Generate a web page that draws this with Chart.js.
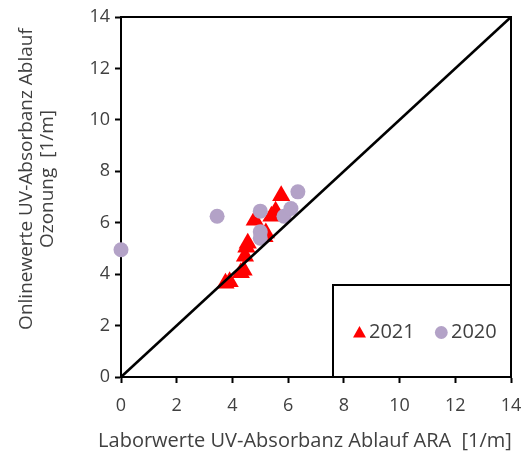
<!DOCTYPE html>
<html>
<head>
<meta charset="utf-8">
<script src="https://cdn.jsdelivr.net/npm/chart.js@4/dist/chart.umd.min.js"></script>
<style>
  html, body { margin: 0; padding: 0; background: #ffffff; }
  #wrap { width: 527px; height: 457px; }
</style>
</head>
<body>
<div id="wrap"><canvas id="c" width="527" height="457"></canvas></div>
<script>
// Lab values (x) against online values (y), UV absorbance [1/m]
const labels = ['2021', '2020'];

const lab2021 = [3.75, 3.9, 4.3, 4.4, 4.45, 4.5, 4.55, 4.8, 5.15, 5.2, 5.4, 5.55, 5.75];
const online2021 = [3.65, 3.7, 4.05, 4.15, 4.7, 5.05, 5.2, 6.1, 5.45, 5.6, 6.25, 6.45, 7.05];

const lab2020 = [0, 3.45, 5.0, 5.0, 5.0, 5.85, 6.1, 6.35];
const online2020 = [4.95, 6.25, 6.45, 5.65, 5.4, 6.25, 6.55, 7.2];

// 1:1 reference line
const diagX = [0, 14];
const diagY = [0, 14];

const axisTicks = [0, 2, 4, 6, 8, 10, 12, 14];

const xTitle = 'Laborwerte UV-Absorbanz Ablauf ARA  [1/m]';
const yTitle = ['Onlinewerte UV-Absorbanz Ablauf', 'Ozonung  [1/m]'];

const RED = '#ff0000';
const LILAC = '#b3a2c7';
const TEXT = '#404040';
const FONT = "'Open Sans', 'Noto Sans', sans-serif";

const toPoints = (xs, ys) => xs.map((x, i) => ({ x: x, y: ys[i] }));

const frameAndLegend = {
  id: 'frameAndLegend',
  afterDraw(chart) {
    const ctx = chart.ctx;
    const a = chart.chartArea;
    ctx.save();
    // top and right frame lines
    ctx.strokeStyle = '#000';
    ctx.lineWidth = 2;
    ctx.beginPath();
    ctx.moveTo(a.left, a.top);
    ctx.lineTo(a.right, a.top);
    ctx.lineTo(a.right, a.bottom);
    ctx.stroke();

    // legend box
    const bx = 333, by = 285, bw = a.right - 333, bh = a.bottom - 285;
    ctx.fillStyle = '#fff';
    ctx.fillRect(bx, by, bw, bh);
    ctx.strokeRect(bx, by, bw, bh);

    const cy = 332;
    ctx.font = '20px ' + FONT;
    ctx.textBaseline = 'middle';
    ctx.textAlign = 'left';
    // 2021 marker
    ctx.fillStyle = RED;
    ctx.beginPath();
    ctx.moveTo(359.5, cy - 6);
    ctx.lineTo(366, cy + 5.5);
    ctx.lineTo(353, cy + 5.5);
    ctx.closePath();
    ctx.fill();
    ctx.fillStyle = TEXT;
    ctx.fillText(labels[0], 369, cy);
    // 2020 marker
    ctx.fillStyle = LILAC;
    ctx.beginPath();
    ctx.arc(441.3, cy + 0.5, 6.4, 0, Math.PI * 2);
    ctx.fill();
    ctx.fillStyle = TEXT;
    ctx.fillText(labels[1], 451, cy);

    // axis titles
    ctx.fillStyle = TEXT;
    ctx.textAlign = 'center';
    ctx.font = '20px ' + FONT;
    ctx.fillText(xTitle, 305, 441);
    ctx.font = '19px ' + FONT;
    ctx.translate(27, 179);
    ctx.rotate(-Math.PI / 2);
    ctx.fillText(yTitle[0], 0, 0);
    ctx.fillText(yTitle[1], 0, 21);
    ctx.restore();
  }
};

const axisCommon = {
  type: 'linear',
  min: 0,
  max: 14,
  ticks: {
    stepSize: 2,
    color: TEXT,
    font: { family: FONT, size: 18 }
  },
  grid: {
    drawOnChartArea: false,
    drawTicks: true,
    tickLength: 6,
    tickColor: '#000',
    tickWidth: 2
  },
  border: { display: true, color: '#000', width: 2 }
};

// fixed axis box sizes so the plot area stays put
const fitBox = (w, h) => s => {
  if (w !== null) s.width = w;
  if (h !== null) s.height = h;
  s.paddingLeft = 0;
  s.paddingRight = 0;
  s.paddingTop = 0;
  s.paddingBottom = 0;
};

new Chart(document.getElementById('c'), {
  type: 'scatter',
  data: {
    datasets: [
      {
        label: '1:1',
        data: toPoints(diagX, diagY),
        showLine: true,
        borderColor: '#000',
        borderWidth: 2.5,
        pointRadius: 0,
        pointHoverRadius: 0,
        clip: false
      },
      {
        label: labels[1],
        data: toPoints(lab2020, online2020),
        pointStyle: 'circle',
        pointRadius: 7.5,
        backgroundColor: LILAC,
        borderWidth: 0,
        clip: false
      },
      {
        label: labels[0],
        data: toPoints(lab2021, online2021),
        pointStyle: 'triangle',
        pointRadius: 10.5,
        backgroundColor: RED,
        borderWidth: 0,
        clip: false
      }
    ]
  },
  options: {
    responsive: false,
    animation: false,
    layout: { padding: { top: 17, right: 16, left: 0, bottom: 0 } },
    plugins: {
      legend: { display: false },
      tooltip: { enabled: false }
    },
    scales: {
      x: Object.assign({}, axisCommon, {
        ticks: Object.assign({}, axisCommon.ticks, { padding: 12, maxRotation: 0 }),
        afterBuildTicks: s => { s.ticks = axisTicks.map(v => ({ value: v })); },
        afterFit: fitBox(null, 80)
      }),
      y: Object.assign({}, axisCommon, {
        ticks: Object.assign({}, axisCommon.ticks, { padding: 5 }),
        afterBuildTicks: s => { s.ticks = axisTicks.map(v => ({ value: v })); },
        afterFit: fitBox(121, null)
      })
    }
  },
  plugins: [frameAndLegend]
});
</script>
</body>
</html>
